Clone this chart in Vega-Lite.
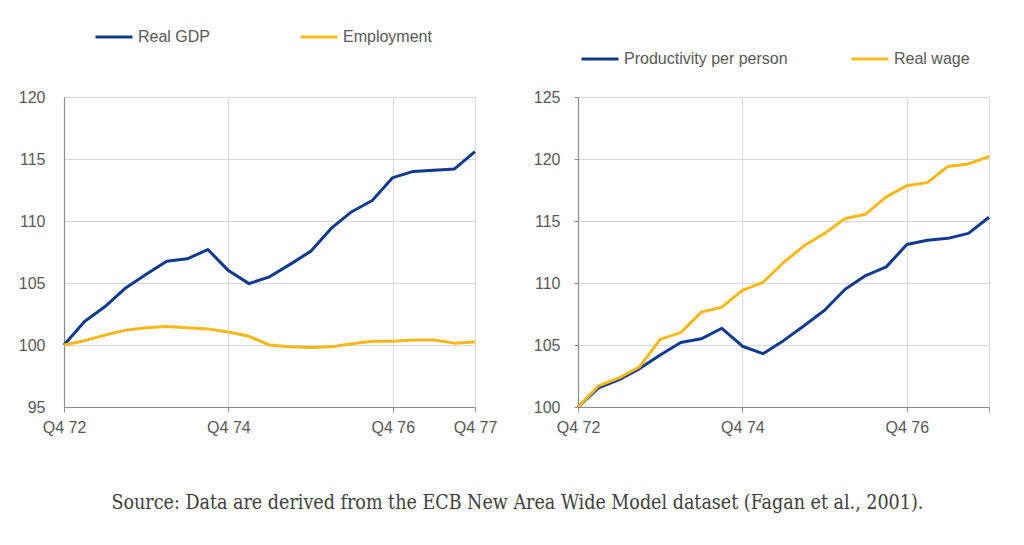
{
  "$schema": "https://vega.github.io/schema/vega-lite/v6.json",
  "background": "white",
  "padding": {"left": 17, "top": 16, "right": 5, "bottom": 5},
  "bounds": "flush",
  "spacing": 103,
  "title": {
    "text": "Source: Data are derived from the ECB New Area Wide Model dataset (Fagan et al., 2001).",
    "orient": "bottom",
    "anchor": "middle",
    "offset": 58,
    "dx": 13,
    "font": "DejaVu Serif Condensed",
    "fontSize": 19.5,
    "fontWeight": "normal",
    "color": "#404040"
  },
  "config": {
    "view": {"stroke": "#d9d9d9", "strokeWidth": 1},
    "axis": {
      "labelFont": "Liberation Sans",
      "labelFontSize": 16,
      "labelColor": "#595959",
      "gridColor": "#d9d9d9",
      "gridWidth": 1,
      "domainColor": "#8c8c8c",
      "domainWidth": 1.2,
      "tickColor": "#8c8c8c",
      "tickSize": 5,
      "title": null
    },
    "legend": {
      "labelFont": "Liberation Sans",
      "labelFontSize": 16,
      "labelColor": "#595959",
      "labelLimit": 400,
      "symbolType": "stroke",
      "symbolSize": 1369,
      "symbolStrokeWidth": 3,
      "labelOffset": 4,
      "direction": "horizontal",
      "orient": "none",
      "title": null
    }
  },
  "datasets": {
    "left": [
      {"t": 0, "series": "Real GDP", "value": 100.0},
      {"t": 1, "series": "Real GDP", "value": 101.9},
      {"t": 2, "series": "Real GDP", "value": 103.1},
      {"t": 3, "series": "Real GDP", "value": 104.6},
      {"t": 4, "series": "Real GDP", "value": 105.7},
      {"t": 5, "series": "Real GDP", "value": 106.75},
      {"t": 6, "series": "Real GDP", "value": 106.95},
      {"t": 7, "series": "Real GDP", "value": 107.7},
      {"t": 8, "series": "Real GDP", "value": 106.0},
      {"t": 9, "series": "Real GDP", "value": 104.95},
      {"t": 10, "series": "Real GDP", "value": 105.5},
      {"t": 11, "series": "Real GDP", "value": 106.5},
      {"t": 12, "series": "Real GDP", "value": 107.55},
      {"t": 13, "series": "Real GDP", "value": 109.4},
      {"t": 14, "series": "Real GDP", "value": 110.75},
      {"t": 15, "series": "Real GDP", "value": 111.65},
      {"t": 16, "series": "Real GDP", "value": 113.5},
      {"t": 17, "series": "Real GDP", "value": 114.0},
      {"t": 18, "series": "Real GDP", "value": 114.1},
      {"t": 19, "series": "Real GDP", "value": 114.2},
      {"t": 20, "series": "Real GDP", "value": 115.6},
      {"t": 0, "series": "Employment", "value": 100.0},
      {"t": 1, "series": "Employment", "value": 100.35},
      {"t": 2, "series": "Employment", "value": 100.8},
      {"t": 3, "series": "Employment", "value": 101.2},
      {"t": 4, "series": "Employment", "value": 101.4},
      {"t": 5, "series": "Employment", "value": 101.5},
      {"t": 6, "series": "Employment", "value": 101.4},
      {"t": 7, "series": "Employment", "value": 101.3},
      {"t": 8, "series": "Employment", "value": 101.05},
      {"t": 9, "series": "Employment", "value": 100.7},
      {"t": 10, "series": "Employment", "value": 100.0},
      {"t": 11, "series": "Employment", "value": 99.85},
      {"t": 12, "series": "Employment", "value": 99.8},
      {"t": 13, "series": "Employment", "value": 99.85},
      {"t": 14, "series": "Employment", "value": 100.1},
      {"t": 15, "series": "Employment", "value": 100.3},
      {"t": 16, "series": "Employment", "value": 100.3},
      {"t": 17, "series": "Employment", "value": 100.4},
      {"t": 18, "series": "Employment", "value": 100.4},
      {"t": 19, "series": "Employment", "value": 100.15},
      {"t": 20, "series": "Employment", "value": 100.25}
    ],
    "right": [
      {"t": 0, "series": "Productivity per person", "value": 100.0},
      {"t": 1, "series": "Productivity per person", "value": 101.55},
      {"t": 2, "series": "Productivity per person", "value": 102.2},
      {"t": 3, "series": "Productivity per person", "value": 103.1},
      {"t": 4, "series": "Productivity per person", "value": 104.2},
      {"t": 5, "series": "Productivity per person", "value": 105.2},
      {"t": 6, "series": "Productivity per person", "value": 105.5},
      {"t": 7, "series": "Productivity per person", "value": 106.35},
      {"t": 8, "series": "Productivity per person", "value": 104.9},
      {"t": 9, "series": "Productivity per person", "value": 104.3},
      {"t": 10, "series": "Productivity per person", "value": 105.35},
      {"t": 11, "series": "Productivity per person", "value": 106.55},
      {"t": 12, "series": "Productivity per person", "value": 107.8},
      {"t": 13, "series": "Productivity per person", "value": 109.5},
      {"t": 14, "series": "Productivity per person", "value": 110.6},
      {"t": 15, "series": "Productivity per person", "value": 111.3},
      {"t": 16, "series": "Productivity per person", "value": 113.1},
      {"t": 17, "series": "Productivity per person", "value": 113.45},
      {"t": 18, "series": "Productivity per person", "value": 113.6},
      {"t": 19, "series": "Productivity per person", "value": 114.0},
      {"t": 20, "series": "Productivity per person", "value": 115.3},
      {"t": 0, "series": "Real wage", "value": 100.0},
      {"t": 1, "series": "Real wage", "value": 101.7},
      {"t": 2, "series": "Real wage", "value": 102.35},
      {"t": 3, "series": "Real wage", "value": 103.25},
      {"t": 4, "series": "Real wage", "value": 105.45},
      {"t": 5, "series": "Real wage", "value": 106.0},
      {"t": 6, "series": "Real wage", "value": 107.65},
      {"t": 7, "series": "Real wage", "value": 108.05},
      {"t": 8, "series": "Real wage", "value": 109.4},
      {"t": 9, "series": "Real wage", "value": 110.05},
      {"t": 10, "series": "Real wage", "value": 111.65},
      {"t": 11, "series": "Real wage", "value": 113.0},
      {"t": 12, "series": "Real wage", "value": 114.0},
      {"t": 13, "series": "Real wage", "value": 115.2},
      {"t": 14, "series": "Real wage", "value": 115.55},
      {"t": 15, "series": "Real wage", "value": 116.95},
      {"t": 16, "series": "Real wage", "value": 117.85},
      {"t": 17, "series": "Real wage", "value": 118.1},
      {"t": 18, "series": "Real wage", "value": 119.4},
      {"t": 19, "series": "Real wage", "value": 119.6},
      {"t": 20, "series": "Real wage", "value": 120.2}
    ]
  },
  "hconcat": [
    {
      "width": 411,
      "height": 310,
      "data": {"name": "left"},
      "mark": {"type": "line", "strokeWidth": 3, "strokeJoin": "round"},
      "encoding": {
        "x": {
          "field": "t", "type": "quantitative",
          "scale": {"domain": [0, 20], "nice": false, "zero": false},
          "axis": {"values": [0, 8, 16, 20], "labelExpr": "'Q4 ' + (72 + datum.value / 4)", "labelPadding": 7, "labelFlush": false}
        },
        "y": {
          "field": "value", "type": "quantitative",
          "scale": {"domain": [95, 120], "nice": false, "zero": false},
          "axis": {"values": [95, 100, 105, 110, 115, 120], "tickSize": 0, "labelPadding": 19}
        },
        "color": {
          "field": "series", "type": "nominal",
          "scale": {"domain": ["Real GDP", "Employment"], "range": ["#0f3a8f", "#f6b81c"]},
          "legend": {"legendX": 30, "legendY": -80, "columnPadding": 83}
        }
      }
    },
    {
      "width": 411,
      "height": 310,
      "data": {"name": "right"},
      "mark": {"type": "line", "strokeWidth": 3, "strokeJoin": "round"},
      "encoding": {
        "x": {
          "field": "t", "type": "quantitative",
          "scale": {"domain": [0, 20], "nice": false, "zero": false},
          "axis": {"values": [0, 8, 16, 20], "labelExpr": "datum.value < 20 ? 'Q4 ' + (72 + datum.value / 4) : ''", "labelPadding": 7, "labelFlush": false}
        },
        "y": {
          "field": "value", "type": "quantitative",
          "scale": {"domain": [100, 125], "nice": false, "zero": false},
          "axis": {"values": [100, 105, 110, 115, 120, 125], "tickSize": 4, "labelPadding": 14}
        },
        "color": {
          "field": "series", "type": "nominal",
          "scale": {"domain": ["Productivity per person", "Real wage"], "range": ["#0f3a8f", "#f6b81c"]},
          "legend": {"legendX": 2, "legendY": -58, "columnPadding": 57}
        }
      }
    }
  ],
  "resolve": {"scale": {"color": "independent", "y": "independent", "x": "independent"}, "legend": {"color": "independent"}}
}
